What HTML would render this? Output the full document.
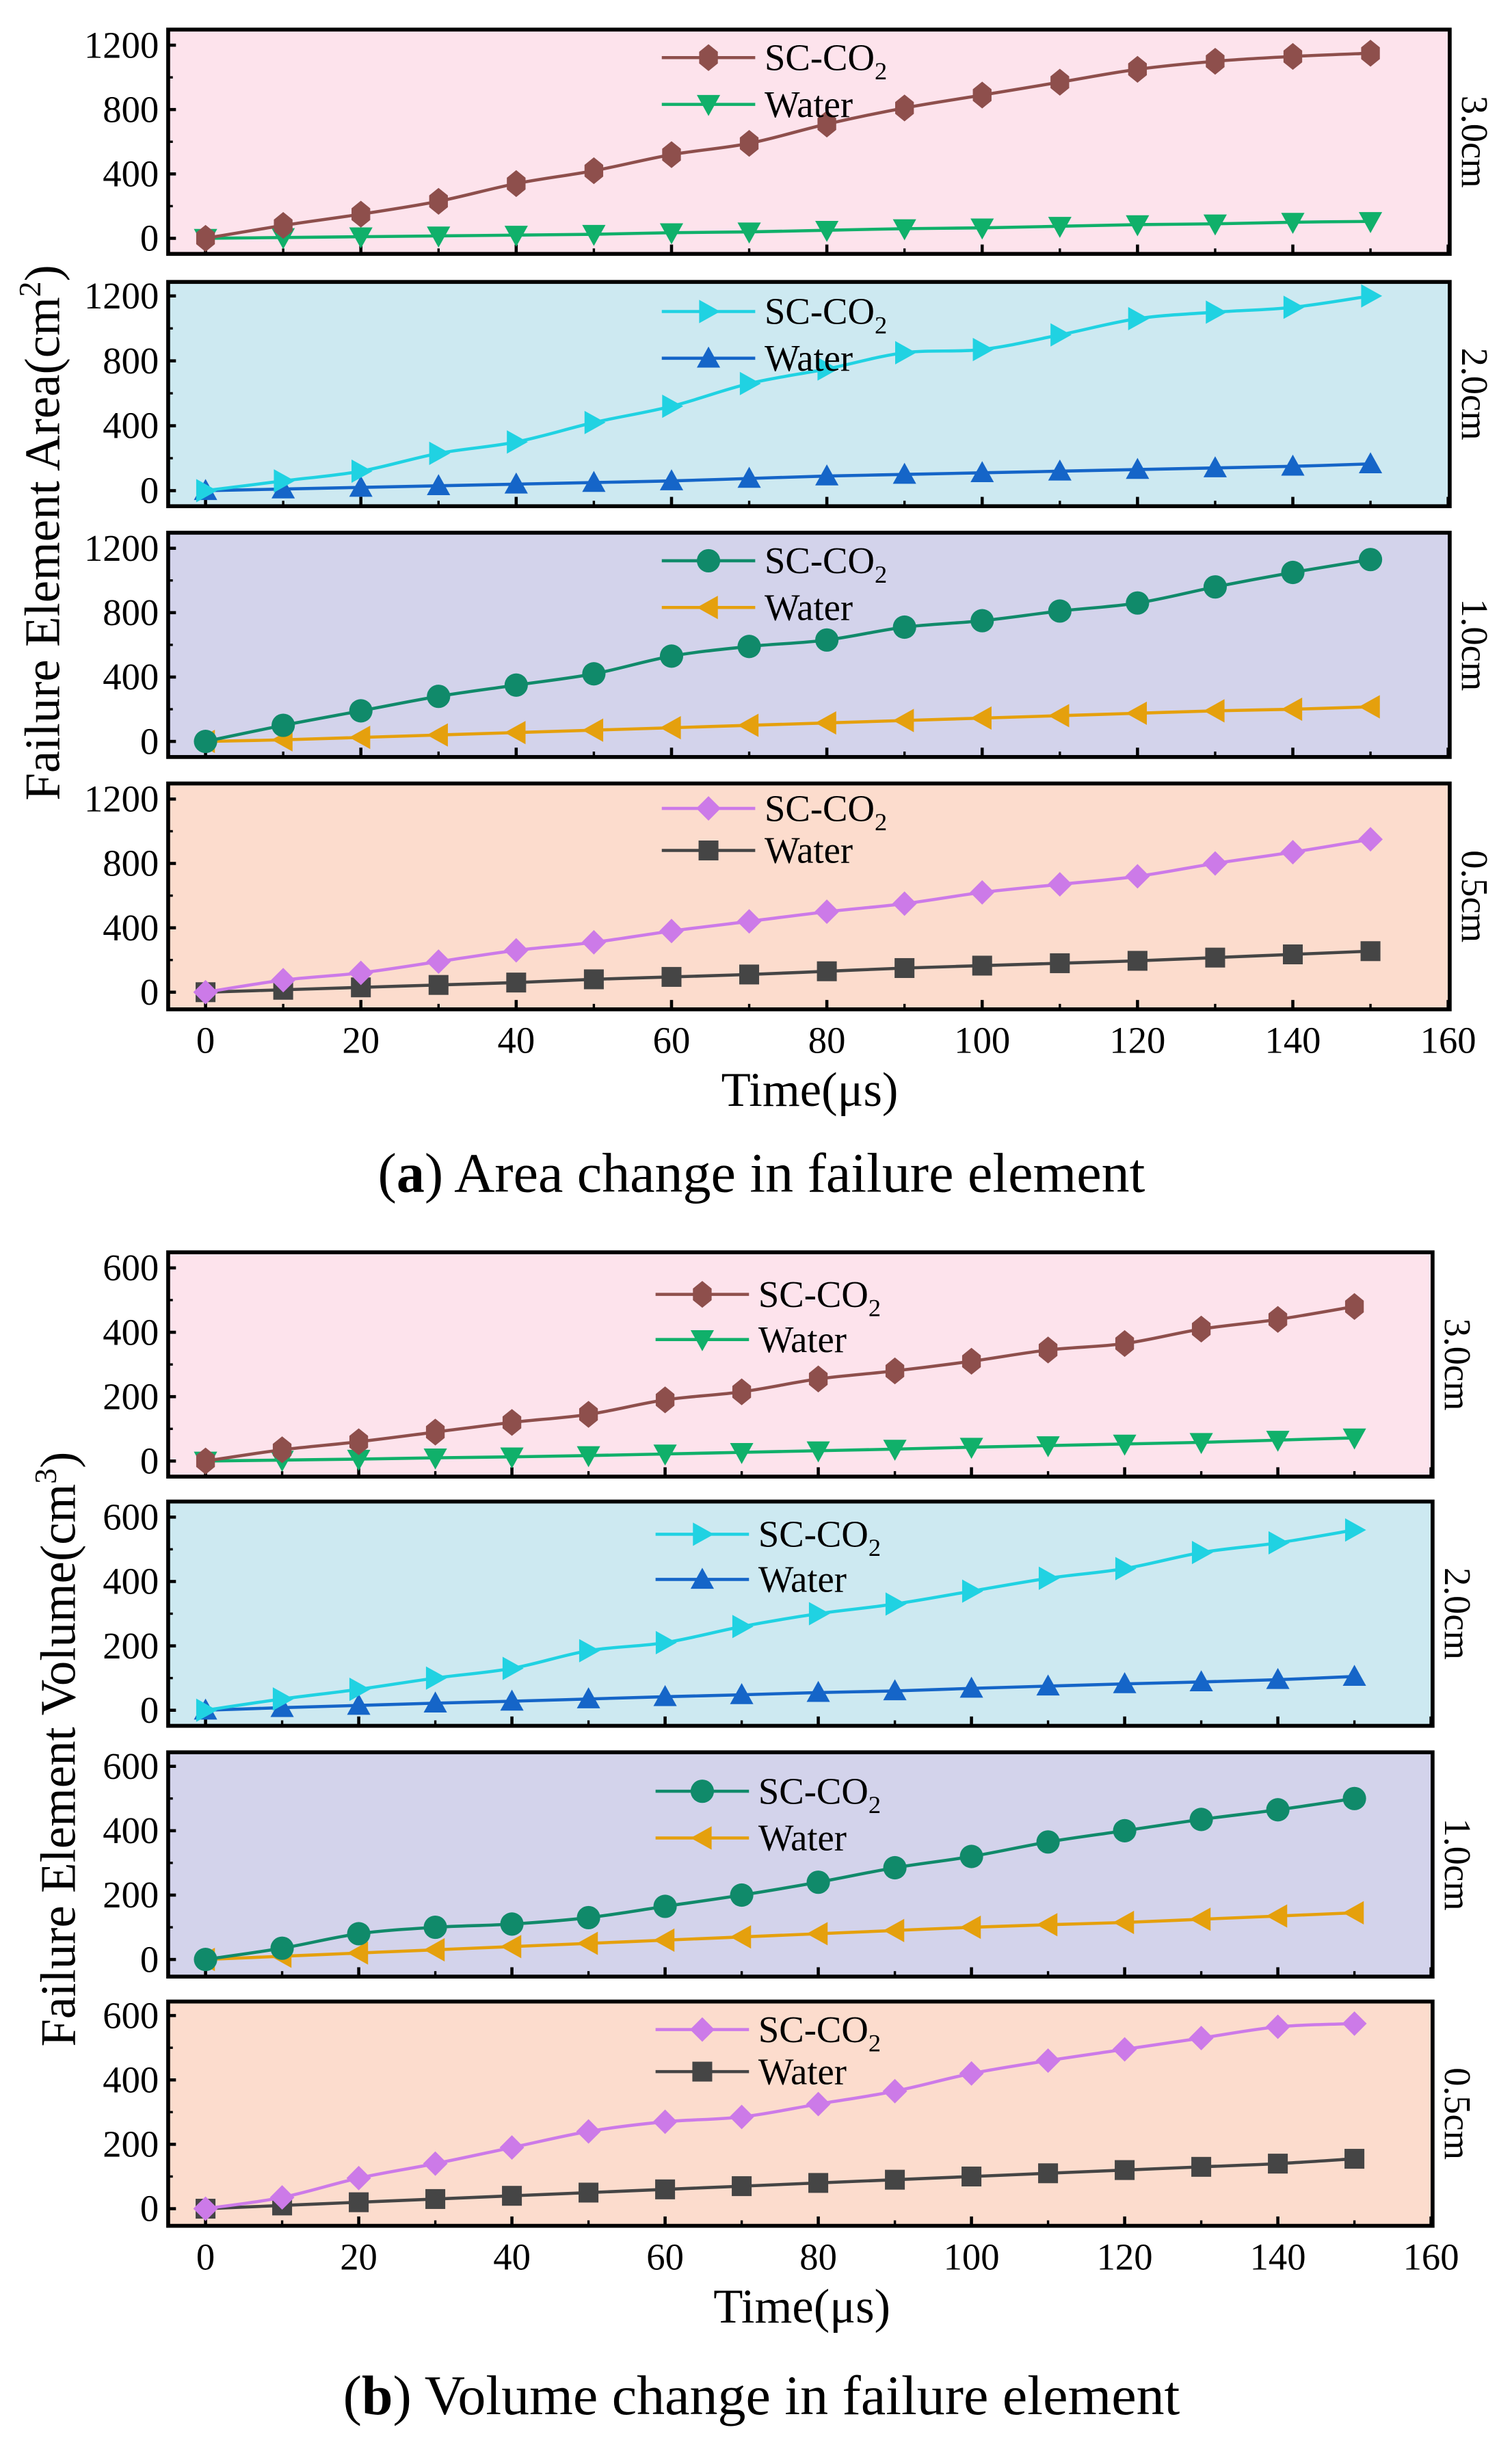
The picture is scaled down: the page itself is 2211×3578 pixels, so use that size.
<!DOCTYPE html>
<html><head><meta charset="utf-8"><style>
html,body{margin:0;padding:0;background:#fff;}
svg{display:block;}
svg text{font-family:"Liberation Serif","DejaVu Serif",serif;}
</style></head><body>
<svg id="chart" width="2211" height="3578" viewBox="0 0 971 1571" preserveAspectRatio="none" xmlns="http://www.w3.org/2000/svg" font-family="Liberation Serif, serif"></svg>
<script>
const times = [0,10,20,30,40,50,60,70,80,90,100,110,120,130,140,150];
const xTicks = [0,20,40,60,80,100,120,140,160];
const areaTicks = [0,400,800,1200];
const volTicks = [0,200,400,600];
const panelLabels = ["3.0cm","2.0cm","1.0cm","0.5cm"];
// (a) area
const aSC30 = [0,80,150,230,340,420,520,590,710,810,890,970,1050,1100,1130,1150];
const aW30  = [0,5,10,15,20,25,35,40,50,60,65,75,85,90,100,105];
const aSC20 = [0,60,120,230,300,420,520,660,750,850,870,960,1060,1100,1130,1200];
const aW20  = [0,10,20,30,40,50,60,75,90,100,110,120,130,140,150,165];
const aSC10 = [0,100,190,280,350,420,530,590,630,710,750,810,860,960,1050,1130];
const aW10  = [0,10,25,40,55,70,85,100,115,130,145,160,175,190,200,215];
const aSC05 = [0,75,120,190,260,310,380,440,500,550,620,670,720,800,870,950];
const aW05  = [0,15,30,45,60,80,95,110,130,150,165,180,195,215,235,255];
// (b) volume
const vSC30 = [0,35,60,90,120,145,190,215,255,280,310,345,365,410,440,480];
const vW30  = [0,3,6,10,13,17,22,27,32,37,43,48,53,58,65,72];
const vSC20 = [0,35,65,100,130,185,210,260,300,330,370,410,440,490,520,560];
const vW20  = [0,8,15,22,28,35,42,48,55,60,68,75,82,88,95,105];
const vSC10 = [0,35,80,100,110,130,165,200,240,285,320,365,400,435,465,500];
const vW10  = [0,10,20,30,40,50,60,70,80,90,100,108,115,125,135,145];
const vSC05 = [0,35,95,140,190,240,270,285,325,365,420,460,495,530,565,575];
const vW05  = [0,10,20,30,40,50,60,70,80,90,100,110,120,130,140,155];

const NS="http://www.w3.org/2000/svg";
const svg=document.getElementById('chart');
function mk(tag,attrs,parent){const e=document.createElementNS(NS,tag);for(const k in attrs)e.setAttribute(k,attrs[k]);if(tag==='text')e.setAttribute('font-family','Liberation Serif, serif');(parent||svg).appendChild(e);return e;}

const styles=[
 {sc:{c:"#8e4f4c",m:"hex"},w:{c:"#10b06a",m:"tdown"},bg:"#fde3ec"},
 {sc:{c:"#20d2e2",m:"tright"},w:{c:"#1565c8",m:"tup"},bg:"#cde9f1"},
 {sc:{c:"#108a6a",m:"circle"},w:{c:"#e5a00d",m:"tleft"},bg:"#d3d3eb"},
 {sc:{c:"#cc7ae8",m:"diamond"},w:{c:"#454545",m:"square"},bg:"#fcdccd"}
];
function marker(g,type,x,y,c,s){
 s=s||7.5;let p;
 if(type==="circle"){p=mk('circle',{cx:x,cy:y,r:s,fill:c},g);}
 else if(type==="square"){p=mk('rect',{x:x-s*0.85,y:y-s*0.85,width:s*1.7,height:s*1.7,fill:c},g);}
 else {let pts;
  if(type==="hex")pts=[[0,-s*1.15],[s*0.8,-s*0.5],[s*0.8,s*0.5],[0,s*1.15],[-s*0.8,s*0.5],[-s*0.8,-s*0.5]];
  if(type==="diamond")pts=[[0,-s*1.05],[s*1.05,0],[0,s*1.05],[-s*1.05,0]];
  if(type==="tdown")pts=[[-s,-s*0.8],[s,-s*0.8],[0,s]];
  if(type==="tup")pts=[[-s,s*0.8],[s,s*0.8],[0,-s]];
  if(type==="tright")pts=[[-s*0.8,-s],[-s*0.8,s],[s,0]];
  if(type==="tleft")pts=[[s*0.8,-s],[s*0.8,s],[-s,0]];
  p=mk('polygon',{points:pts.map(q=>(x+q[0])+","+(y+q[1])).join(" "),fill:c},g);}
 
 
}
function smooth(pts){let d="M"+pts[0][0]+","+pts[0][1];
 for(let i=0;i<pts.length-1;i++){const p0=pts[i-1]||pts[i],p1=pts[i],p2=pts[i+1],p3=pts[i+2]||p2;
  d+=" C"+(p1[0]+(p2[0]-p0[0])/6)+","+(p1[1]+(p2[1]-p0[1])/6)+" "+(p2[0]-(p3[0]-p1[0])/6)+","+(p2[1]-(p3[1]-p1[1])/6)+" "+p2[0]+","+p2[1];}
 return d;}

function part(cfg){
 const g=mk('g',{});
 
 
 const X0=cfg.x0,X1=cfg.x1;
 const xs=v=>cfg.xz+(v/160)*(X1-cfg.xz-1);
 cfg.panels.forEach((pn,i)=>{
  const st=styles[i];
  const top=pn.top,bot=pn.top+pn.h;
  const ys=v=>pn.zero-(v/cfg.ymax)*(pn.zero-pn.ymaxY);
  const pg=mk('g',{},g);
  
  
  const bg=mk('rect',{x:X0,y:top,width:X1-X0,height:pn.h,fill:st.bg},pg);
  
  
  cfg.yticks.forEach((t,k)=>{const y=ys(t);
   mk('line',{x1:X0,x2:X0+5,y1:y,y2:y,stroke:"#000","stroke-width":2},pg);
   if(k<cfg.yticks.length-1){const ym=ys(t+cfg.yticks[1]/2);mk('line',{x1:X0,x2:X0+3,y1:ym,y2:ym,stroke:"#000","stroke-width":1.5},pg);}
   const tl=mk('text',{x:X0-6,y:y+8,"text-anchor":"end","font-size":24},pg);tl.textContent=t;
   
   });
  xTicks.forEach((t,k)=>{const x=xs(t);
   mk('line',{x1:x,x2:x,y1:bot,y2:bot-6,stroke:"#000","stroke-width":2},pg);
   if(k<xTicks.length-1){const xm=xs(t+10);mk('line',{x1:xm,x2:xm,y1:bot,y2:bot-3.5,stroke:"#000","stroke-width":1.5},pg);}});
  [[pn.w,st.w,'water'],[pn.sc,st.sc,'sc-co2']].forEach(([vals,s,nm])=>{
   const sg=mk('g',{},pg);
   
   
   const pts=vals.map((v,j)=>[xs(times[j]),ys(v)]);
   mk('path',{d:smooth(pts),fill:"none",stroke:s.c,"stroke-width":2},sg);
   pts.forEach(p=>marker(sg,s.m,p[0],p[1],s.c));
  });
  const lg=mk('g',{},pg);
  
  
  [[st.sc,"SC-CO",pn.l1],[st.w,"Water",pn.l2]].forEach(([s,lab,ly])=>{
   mk('line',{x1:cfg.lx,x2:cfg.lx+60,y1:ly,y2:ly,stroke:s.c,"stroke-width":2},lg);
   marker(lg,s.m,cfg.lx+30,ly,s.c);
   const t=mk('text',{x:cfg.lx+66,y:ly+8,"font-size":24},lg);
   t.textContent=lab;
   if(lab==="SC-CO"){const sub=mk('tspan',{"font-size":16,dy:6},t);sub.textContent="2";}
   
   
  });
  mk('rect',{x:X0,y:top,width:X1-X0,height:pn.h,fill:"none",stroke:"#000","stroke-width":2.5},pg);
  const rl=mk('text',{transform:`translate(${X1+8},${top+pn.h/2}) rotate(90)`,"text-anchor":"middle","font-size":24},pg);
  rl.textContent=panelLabels[i];
  
  
  if(i===3){xTicks.forEach(t=>{const xl=mk('text',{x:xs(t),y:bot+28,"text-anchor":"middle","font-size":24},pg);xl.textContent=t;
   
   });}
 });
 const xt=mk('text',{x:cfg.xtx,y:cfg.xty,"text-anchor":"middle","font-size":31},g);xt.textContent="Time(μs)";
 
 
 const yt=mk('text',{transform:`translate(${cfg.ytx},${cfg.yty}) rotate(-90)`,"text-anchor":"middle","font-size":32},g);
 yt.textContent=cfg.ytitle;
 const sp=mk('tspan',{"font-size":20,dy:-12},yt);sp.textContent=cfg.ysup;
 const sp2=mk('tspan',{dy:12},yt);sp2.textContent=")";
 
 
 const cap=mk('text',{x:cfg.capx,y:cfg.capy,"text-anchor":"middle","font-size":36},g);
 const b=mk('tspan',{},cap);b.textContent="(";
 const bb=mk('tspan',{"font-weight":"bold"},cap);bb.textContent=cfg.capLetter;
 const rest=mk('tspan',{},cap);rest.textContent=") "+cfg.capText;
 
 
}

part({name:'area-chart',x0:108,x1:931,xz:132,ymax:1200,yticks:areaTicks,lx:425,
 panels:[
  {top:19,h:144,zero:153,ymaxY:29,sc:aSC30,w:aW30,l1:37,l2:67},
  {top:181,h:144,zero:315,ymaxY:190,sc:aSC20,w:aW20,l1:200,l2:230},
  {top:342,h:144,zero:476,ymaxY:352,sc:aSC10,w:aW10,l1:360,l2:390},
  {top:503,h:145,zero:637,ymaxY:513,sc:aSC05,w:aW05,l1:519,l2:546}],
 xtx:520,xty:710,ytx:38,yty:342,ytitle:"Failure Element Area(cm",ysup:"2",
 capx:489,capy:765,capLetter:"a",capText:"Area change in failure element"});
part({name:'volume-chart',x0:108,x1:920,xz:132,ymax:600,yticks:volTicks,lx:421,
 panels:[
  {top:804,h:144,zero:938,ymaxY:814,sc:vSC30,w:vW30,l1:831,l2:860},
  {top:964,h:144,zero:1098,ymaxY:974,sc:vSC20,w:vW20,l1:985,l2:1014},
  {top:1125,h:144,zero:1258,ymaxY:1134,sc:vSC10,w:vW10,l1:1150,l2:1180},
  {top:1285,h:144,zero:1418,ymaxY:1294,sc:vSC05,w:vW05,l1:1303,l2:1330}],
 xtx:515,xty:1491,ytx:48,yty:1123,ytitle:"Failure Element Volume(cm",ysup:"3",
 capx:489,capy:1550,capLetter:"b",capText:"Volume change in failure element"});
</script>
</body></html>
